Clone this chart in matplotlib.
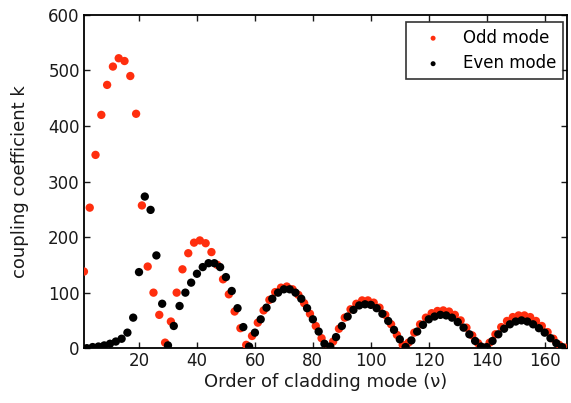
import matplotlib
matplotlib.use("Agg")
import matplotlib.pyplot as plt
import numpy as np

plt.rcParams['font.family'] = ['DejaVu Sans']

# Odd mode (red), at odd cladding-mode orders
odd_nu = list(range(1, 168, 2))
odd_k = [138, 253, 348, 420, 474, 507, 522, 517, 490, 422,
         257, 147, 100, 60, 10, 48, 100, 142, 171, 190,
         194, 189, 173, 150, 124, 97, 66, 36, 6,
         22, 46, 68, 87, 101, 109, 111, 106, 96, 81, 62, 40, 18, 2,
         12, 35, 55, 70, 80, 86, 86, 82, 73, 60, 43, 24, 6,
         10, 28, 43, 55, 63, 67, 68, 66, 60, 50, 37, 23, 9, 1,
         10, 25, 38, 49, 56, 59, 59, 56, 49, 40, 29, 17, 6, 1]

# Even mode (black), at even cladding-mode orders
even_nu = list(range(2, 167, 2))
even_k = [0, 2, 3, 5, 8, 12, 17, 28, 55, 137,
          273, 249, 167, 80, 5, 40, 76, 100, 118, 134,
          146, 153, 153, 146, 128, 103, 72, 38, 3,
          28, 52, 73, 89, 100, 106, 106, 100, 89, 72, 52, 30, 8,
          3, 20, 40, 57, 69, 77, 79, 78, 72, 62, 49, 33, 16, 2,
          14, 30, 42, 52, 57, 60, 59, 55, 47, 37, 25, 13, 3,
          2, 13, 25, 35, 43, 48, 50, 48, 43, 36, 28, 18, 9, 2]

x_ticks = [20, 40, 60, 80, 100, 120, 140, 160]
y_ticks = [0, 100, 200, 300, 400, 500, 600]

fig = plt.figure(figsize=(5.71, 4.03), dpi=100)
ax = fig.add_axes([0.147, 0.136, 0.846, 0.827])

ax.scatter(odd_nu[:len(odd_k)], odd_k, s=36, color='#ff2e0e', edgecolors='none',
           label='Odd mode', zorder=3)
ax.scatter(even_nu[:len(even_k)], even_k, s=36, color='#000000', edgecolors='none',
           label='Even mode', zorder=4)

ax.set_xlim(1, 167.7)
ax.set_ylim(0, 600)
ax.set_xticks(x_ticks)
ax.set_yticks(y_ticks)
ax.tick_params(direction='in', top=True, right=True, length=4, width=1,
               labelsize=12, colors='#1a1a1a', pad=3)
for sp in ax.spines.values():
    sp.set_linewidth(1.3)
ax.set_xlabel('Order of cladding mode (\u03bd)', fontsize=13, labelpad=2, color='#1a1a1a')
ax.set_ylabel('coupling coefficient k', fontsize=13, labelpad=14, color='#1a1a1a')

leg = ax.legend(loc='upper right', fontsize=12, frameon=True, fancybox=False,
                edgecolor='black', markerscale=0.6, handletextpad=0.6,
                borderpad=0.4, labelspacing=0.45, handlelength=2.4,
                borderaxespad=0, bbox_to_anchor=(0.992, 0.979))
leg.get_frame().set_linewidth(1.2)

fig.savefig('out.png', dpi=100)
